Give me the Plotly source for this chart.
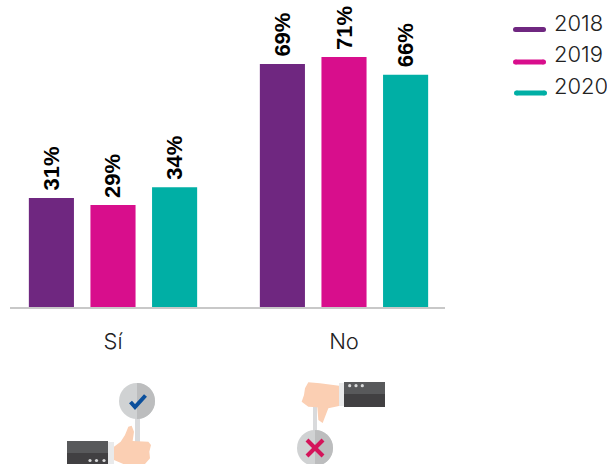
import math
import plotly.graph_objects as go

categories = ["Sí", "No"]
years = ["2018", "2019", "2020"]
values_2018 = [31, 69]
values_2019 = [29, 71]
values_2020 = [34, 66]
colors = ["#6F2780", "#D80E8C", "#00AFA5"]

W, H = 607, 464
L, R, T, B = 10, 445, 0, 307
PX_PER_PCT = 3.52


def X(px):
    return (px - L) / (R - L)


def Y(px):
    return (B - px) / (B - T)


def path(pts, fill, closed=True):
    d = "M" + " L".join(f"{X(x):.5f},{Y(y):.5f}" for x, y in pts) + (" Z" if closed else "")
    return dict(type="path", xref="paper", yref="paper", path=d,
                fillcolor=fill, line=dict(width=0), layer="above")


def zpath(pts, fill):
    return path([(x / 3, 320 + y / 3) for x, y in pts], fill)


def rect(x0, y0, x1, y1, fill):
    return dict(type="rect", xref="paper", yref="paper", x0=X(x0), x1=X(x1), y0=Y(y0), y1=Y(y1),
                fillcolor=fill, line=dict(width=0), layer="above")


def circle(cx, cy, r, fill):
    return dict(type="circle", xref="paper", yref="paper", x0=X(cx - r), x1=X(cx + r),
                y0=Y(cy - r), y1=Y(cy + r), fillcolor=fill, line=dict(width=0), layer="above")


def stroke(pts, color, width):
    d = "M" + " L".join(f"{X(x):.5f},{Y(y):.5f}" for x, y in pts)
    return dict(type="path", xref="paper", yref="paper", path=d, fillcolor="rgba(0,0,0,0)",
                line=dict(color=color, width=width), layer="above")


def half_disc(cx, cy, r, fill):
    pts = [(cx + r * math.sin(math.radians(a)), cy - r * math.cos(math.radians(a))) for a in range(0, 181, 10)]
    return path(pts, fill)


SKIN = "#FBCFB3"
shapes = []

# legend swatches
for (x0, x1, yc), c in zip([(513, 546, 29.5), (513, 546, 62), (514, 547, 93)], colors):
    r = 2.5
    shapes.append(stroke([(x0 + r, yc), (x1 - r, yc)], c, 5))
    shapes.append(circle(x0 + r, yc, r, c))
    shapes.append(circle(x1 - r, yc, r, c))

# thumbs up icon
shapes += [
    rect(135, 415, 140, 446, "#D9DADC"),
    circle(137, 401, 18, "#D0D2D3"),
    half_disc(137, 401, 18, "#BCBDBE"),
    stroke([(130.5, 402), (135, 407), (145.5, 395.5)], "#0B4F9C", 4),
    zpath([(342, 380), (362, 365), (375, 345), (385, 320), (395, 317), (402, 335), (398, 363), (445, 365),
           (453, 375), (448, 395), (450, 415), (435, 432), (370, 432), (342, 420)], SKIN),
    rect(67, 441, 108, 453, "#58595B"),
    rect(67, 453, 108, 464, "#414042"),
    rect(108, 442, 114, 464, "#E9EAEB"),
]
for x in (90, 96.5, 104):
    shapes.append(circle(x, 460.5, 1.6, "#D8D9DA"))

# thumbs down icon
shapes += [
    rect(313, 405, 317, 432, "#D9DADC"),
    zpath([(1017, 197), (960, 190), (925, 187), (915, 205), (912, 225), (905, 245), (925, 260), (952, 262),
           (955, 300), (968, 309), (985, 265), (1017, 258)], SKIN),
    rect(344, 382, 385, 394, "#58595B"),
    rect(344, 394, 385, 407, "#414042"),
    rect(339, 383, 344, 406, "#E9EAEB"),
    circle(315, 448, 18, "#D0D2D3"),
    half_disc(315, 448, 18, "#BCBDBE"),
    stroke([(307, 440), (323, 456)], "#D4145A", 4),
    stroke([(323, 440), (307, 456)], "#D4145A", 4),
]
for x in (349.7, 356, 362.3):
    shapes.append(circle(x, 385.7, 1.6, "#D8D9DA"))

fig = go.Figure()
series = [values_2018, values_2019, values_2020]
for name, vals, c in zip(years, series, colors):
    fig.add_bar(x=categories, y=vals, name=name, marker=dict(color=c, line=dict(width=0)))

annotations = [
    dict(xref="paper", yref="paper", x=X(552), y=Y(y), xanchor="left", yanchor="middle", text=t, showarrow=False,
         font=dict(family="Inter", size=22, color="#222222", weight=300))
    for t, y in zip(years, [22.5, 54, 86])
]
for i, vals in enumerate(series):
    for cat, v in zip(categories, vals):
        annotations.append(dict(
            xref="x", yref="y", x=cat, y=v, text=f"{v}%", showarrow=False, textangle=-90,
            xanchor="center", yanchor="bottom", xshift=(i - 1) * 61.5, yshift=5,
            font=dict(family="Liberation Sans", size=22, color="#000000", weight="bold"),
        ))

fig.update_layout(
    width=W, height=H, autosize=False,
    margin=dict(l=L, r=W - R, t=T, b=H - B, pad=0),
    paper_bgcolor="white", plot_bgcolor="white",
    barmode="group", bargap=0.2, bargroupgap=0.268,
    showlegend=False, shapes=shapes, annotations=annotations,
    xaxis=dict(type="category", range=[(L - 113) / 231, (R - 113) / 231], showline=True, linecolor="#C8C8C8",
               linewidth=2, ticks="outside", ticklen=14, tickcolor="rgba(0,0,0,0)", showgrid=False,
               tickfont=dict(family="Inter", size=22, color="#222222", weight=300)),
    yaxis=dict(range=[0, (B - T) / PX_PER_PCT], visible=False, showgrid=False, zeroline=False),
)
fig.write_html("out.html", config=dict(displayModeBar=False),
               post_script="document.body.style.margin='0';document.body.style.overflow='hidden';")
